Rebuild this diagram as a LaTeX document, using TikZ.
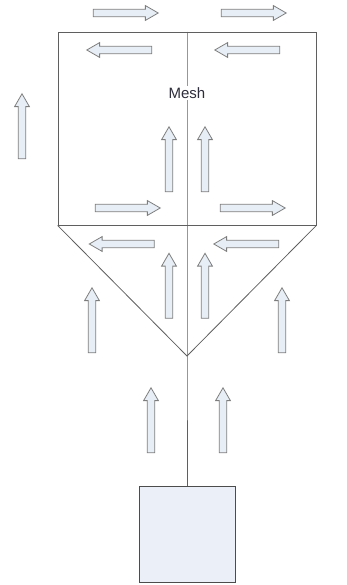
\documentclass[tikz,border=0pt]{standalone}
\usepackage{fontspec}
\setmainfont{Liberation Sans}
\usepackage{tikz}
\usetikzlibrary{positioning,shapes.arrows}
\definecolor{FlowFill}{RGB}{232,238,246}
\definecolor{FlowDraw}{RGB}{125,125,125}
\definecolor{FrameLine}{RGB}{95,95,95}
\definecolor{FanFill}{RGB}{234,239,248}
\definecolor{LabelInk}{RGB}{45,45,60}
\tikzset{
  flow/.style={single arrow, draw=FlowDraw, fill=FlowFill, line width=0.8pt,
    minimum height=65pt, minimum width=14pt, inner sep=3.3pt,
    single arrow head extend=3.7pt, single arrow tip angle=60},
  flowup/.style={flow, rotate=90},
  flowleft/.style={flow, rotate=180},
  frame/.style={draw=FrameLine, line width=0.8pt}
}
\begin{document}
\begin{tikzpicture}[x=1pt, y=-1pt,
    part/.style={rectangle, draw=FrameLine!80!black, fill=FanFill, line width=1pt,
      minimum width=96pt, minimum height=96pt}
  ]
  \useasboundingbox (0,0) rectangle (347,585);
  % mesh housing and hood
  \node[frame, rectangle, minimum width=258pt, minimum height=193pt] (mesh) at (187,128.5) {};
  \coordinate (apex) at (187,356);
  \node[part] (fan) at (187,534) {};
  \draw[frame] (mesh.south west) -- (apex) -- (mesh.south east);
  \draw[frame] (mesh.north) -- (apex) -- (fan.north);
  \node[font=\fontsize{15}{18}\selectfont, text=LabelInk, fill=white, inner sep=1pt] (meshlbl) at (187,93) {Mesh};
  % flow above and inside the mesh
  \node[flow] (topl) at (122.5,13) {};
  \node[flow] (topr) at (250.5,13) {};
  \node[flowleft] (backl) at (122.5,50) {};
  \node[flowleft] (backr) at (250.5,50) {};
  \node[flowup] (upl) at (169,162.5) {};
  \node[flowup] (upr) at (205,162.5) {};
  \node[flowup] (outl) at (22,129.5) {};
  \node[flow] (lowl) at (124.5,208) {};
  \node[flow] (lowr) at (249.5,208) {};
  % flow inside the hood
  \node[flowleft] (hoodl) at (125,244) {};
  \node[flowleft] (hoodr) at (249.5,244) {};
  \node[flowup] (riseI) at (169,289) {};
  \node[flowup] (riseJ) at (205,289) {};
  \node[flowup] (sidel) at (92,323.5) {};
  \node[flowup] (sider) at (282,323.5) {};
  % flow above the fan
  \node[flowup] (fanl) at (151,423.5) {};
  \node[flowup] (fanr) at (223,423.5) {};
\end{tikzpicture}
\end{document}
